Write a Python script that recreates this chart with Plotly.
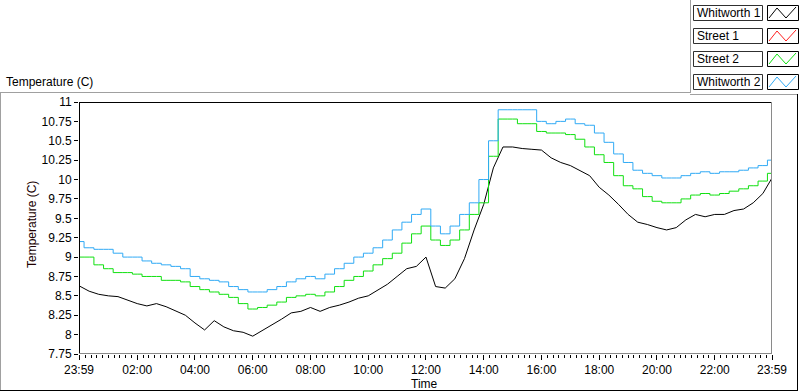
import plotly.graph_objects as go
import pandas as pd

# ---------------- data ----------------
# time grid: 23:59 (previous day), then every 20 minutes 00:20 .. 23:40, then 23:59
TIMES = ["23:59"] + [f"{(20 * k) // 60:02d}:{(20 * k) % 60:02d}" for k in range(1, 72)] + ["23:59"]

WHITWORTH_1 = [8.63, 8.56, 8.52, 8.50, 8.49, 8.44, 8.40, 8.37, 8.40, 8.36,
               8.30, 8.25, 8.15, 8.06, 8.18, 8.10, 8.05, 8.03, 7.98, 8.05,
               8.12, 8.20, 8.28, 8.30, 8.35, 8.30, 8.35, 8.38, 8.42, 8.47,
               8.50, 8.58, 8.65, 8.75, 8.85, 8.88, 9.00, 8.62, 8.60, 8.72,
               8.98, 9.35, 9.68, 10.15, 10.42, 10.42, 10.40, 10.39, 10.38, 10.28,
               10.22, 10.18, 10.12, 10.05, 9.90, 9.80, 9.68, 9.55, 9.45, 9.42,
               9.38, 9.35, 9.38, 9.48, 9.55, 9.52, 9.55, 9.55, 9.60, 9.62,
               9.70, 9.82, 10.02]

STREET_1 = []  # not visible in the chart

STREET_2 = [9.00, 9.00, 8.90, 8.85, 8.80, 8.80, 8.78, 8.75, 8.75, 8.70,
            8.70, 8.68, 8.62, 8.58, 8.55, 8.52, 8.48, 8.40, 8.33, 8.35,
            8.38, 8.42, 8.48, 8.50, 8.52, 8.50, 8.55, 8.62, 8.70, 8.75,
            8.82, 8.90, 8.98, 9.05, 9.18, 9.30, 9.40, 9.22, 9.15, 9.22,
            9.35, 9.55, 9.70, 10.30, 10.78, 10.78, 10.72, 10.72, 10.62, 10.60,
            10.60, 10.58, 10.52, 10.42, 10.32, 10.22, 10.05, 9.92, 9.88, 9.78,
            9.72, 9.70, 9.70, 9.75, 9.80, 9.82, 9.80, 9.82, 9.85, 9.88,
            9.92, 9.98, 10.08]

WHITWORTH_2 = [9.20, 9.12, 9.10, 9.10, 9.05, 9.00, 9.00, 8.95, 8.92, 8.90,
               8.88, 8.85, 8.75, 8.72, 8.70, 8.68, 8.62, 8.58, 8.55, 8.55,
               8.58, 8.62, 8.68, 8.72, 8.75, 8.72, 8.78, 8.85, 8.92, 9.00,
               9.05, 9.12, 9.22, 9.35, 9.45, 9.55, 9.62, 9.40, 9.30, 9.40,
               9.55, 9.70, 10.00, 10.50, 10.90, 10.90, 10.90, 10.90, 10.75, 10.72,
               10.75, 10.78, 10.72, 10.70, 10.60, 10.48, 10.33, 10.22, 10.12, 10.08,
               10.05, 10.02, 10.02, 10.05, 10.08, 10.10, 10.08, 10.10, 10.10, 10.12,
               10.15, 10.18, 10.25]

SERIES_NAMES = ["Whitworth 1", "Street 1", "Street 2", "Whitworth 2"]
SERIES_COLORS = ["#000000", "#ff2020", "#10e010", "#30aaf5"]

Y_TICKS = [7.75, 8, 8.25, 8.5, 8.75, 9, 9.25, 9.5, 9.75, 10, 10.25, 10.5, 10.75, 11]
X_TICK_LABELS = ["23:59", "02:00", "04:00", "06:00", "08:00", "10:00", "12:00",
                 "14:00", "16:00", "18:00", "20:00", "22:00", "23:59"]

# ---------------- build x values ----------------
DAY0, DAY1 = "2024-01-01", "2024-01-02"
x_vals = ([pd.Timestamp(f"{DAY0} {TIMES[0]}")] +
          [pd.Timestamp(f"{DAY1} {t}") for t in TIMES[1:-1]] +
          [pd.Timestamp(f"{DAY1} {TIMES[-1]}")])
x_start, x_end = x_vals[0], x_vals[-1]
x_tickvals = [x_start] + [pd.Timestamp(f"{DAY1} {t}") for t in X_TICK_LABELS[1:-1]] + [x_end]
minor_vals = list(pd.date_range(f"{DAY1} 00:00", f"{DAY1} 23:48", freq="12min"))

# ---------------- layout geometry (pixels) ----------------
W, H = 800, 392
L, R, T, B = 79, 772, 102, 354


def px(x):
    return (x - L) / (R - L)


def py(y):
    return (B - y) / (B - T)


fig = go.Figure()
series = [WHITWORTH_1, STREET_1, STREET_2, WHITWORTH_2]
shapes_kind = ["linear", "hvh", "hvh", "hvh"]
for name, vals, col, shp in zip(SERIES_NAMES, series, SERIES_COLORS, shapes_kind):
    if not vals:
        continue
    fig.add_trace(go.Scatter(x=x_vals[:len(vals)], y=vals, mode="lines", name=name,
                             line=dict(color=col, width=1, shape=shp),
                             hoverinfo="x+y+name"))

shapes = []


def hline(x0, x1, y, color):
    shapes.append(dict(type="line", xref="paper", yref="paper",
                       x0=px(x0), x1=px(x1), y0=py(y), y1=py(y),
                       line=dict(color=color, width=1), layer="above"))


def vline(x, y0, y1, color):
    shapes.append(dict(type="line", xref="paper", yref="paper",
                       x0=px(x), x1=px(x), y0=py(y0), y1=py(y1),
                       line=dict(color=color, width=1), layer="above"))


# plot frame
hline(L, R, T + 0.5, "#000000")
vline(L + 0.5, T, B, "#000000")
vline(R - 0.5, T, B, "#8a8a8a")
hline(L, R, B - 0.5, "#8a8a8a")

# outer panel frame
hline(0, 690, 92.5, "#a0a0a0")
vline(690.5, 0, 93, "#a0a0a0")
hline(690, 797, 94.5, "#a0a0a0")
vline(797.5, 94, 390, "#000000")
hline(0, 798, 390.5, "#000000")
vline(0.5, 92, 390, "#a0a0a0")

annotations = []

# legend (custom LabVIEW-like)
box_tops = [5, 28, 51, 74]
for name, col, y0 in zip(SERIES_NAMES, SERIES_COLORS, box_tops):
    y1 = y0 + 15
    shapes.append(dict(type="rect", xref="paper", yref="paper",
                       x0=px(693.5), x1=px(762.5), y0=py(y0 + 0.5), y1=py(y1 + 0.5),
                       line=dict(color="#303030", width=1), fillcolor="white"))
    shapes.append(dict(type="rect", xref="paper", yref="paper",
                       x0=px(767.5), x1=px(798.5), y0=py(y0 + 0.5), y1=py(y1 + 0.5),
                       line=dict(color="#000000", width=1), fillcolor="white"))
    pts = [(769, y1 - 2), (777, y0 + 3), (786, y1 - 2), (796, y0 + 2)]
    path = "M " + " L ".join(f"{px(a)},{py(b)}" for a, b in pts)
    shapes.append(dict(type="path", xref="paper", yref="paper", path=path,
                       line=dict(color=col, width=1)))
    annotations.append(dict(text=name, xref="paper", yref="paper",
                            x=px(695), y=py(y0 + 8), xanchor="left", yanchor="middle",
                            showarrow=False, font=dict(size=12, color="black")))

# titles
annotations.append(dict(text="Temperature (C)", xref="paper", yref="paper",
                        x=px(4), y=py(82), xanchor="left", yanchor="middle",
                        showarrow=False, font=dict(size=12, color="black")))
annotations.append(dict(text="Temperature (C)", xref="paper", yref="paper",
                        x=px(32), y=py(225), xanchor="center", yanchor="middle",
                        textangle=-90, showarrow=False,
                        font=dict(size=12, color="#200000")))
annotations.append(dict(text="Time", xref="paper", yref="paper",
                        x=px(424), y=py(384), xanchor="center", yanchor="middle",
                        showarrow=False, font=dict(size=12, color="black")))

fig.update_layout(
    width=W, height=H,
    margin=dict(l=L, r=W - R, t=T, b=H - B, pad=0),
    paper_bgcolor="white", plot_bgcolor="white",
    showlegend=False,
    font=dict(family="Liberation Sans, Arial, sans-serif", size=12, color="black"),
    shapes=shapes, annotations=annotations,
    xaxis=dict(type="date", range=[x_start, x_end], showgrid=False, zeroline=False,
               showline=False, tickmode="array", tickvals=x_tickvals,
               ticktext=X_TICK_LABELS, ticks="outside", ticklen=5, tickwidth=1,
               tickcolor="black", tickfont=dict(size=12),
               minor=dict(tickmode="array", tickvals=minor_vals, ticks="outside",
                          ticklen=3, tickwidth=1, tickcolor="black", showgrid=False)),
    yaxis=dict(range=[7.75, 11], showgrid=False, zeroline=False, showline=False,
               tickmode="array", tickvals=Y_TICKS,
               ticktext=[f"{v:g}" for v in Y_TICKS], ticks="outside", ticklen=4,
               tickwidth=1, tickcolor="black", tickfont=dict(size=12)),
)

fig.write_html("out.html", config={"displayModeBar": False},
               post_script="document.body.style.margin='0';document.body.style.overflow='hidden';")
